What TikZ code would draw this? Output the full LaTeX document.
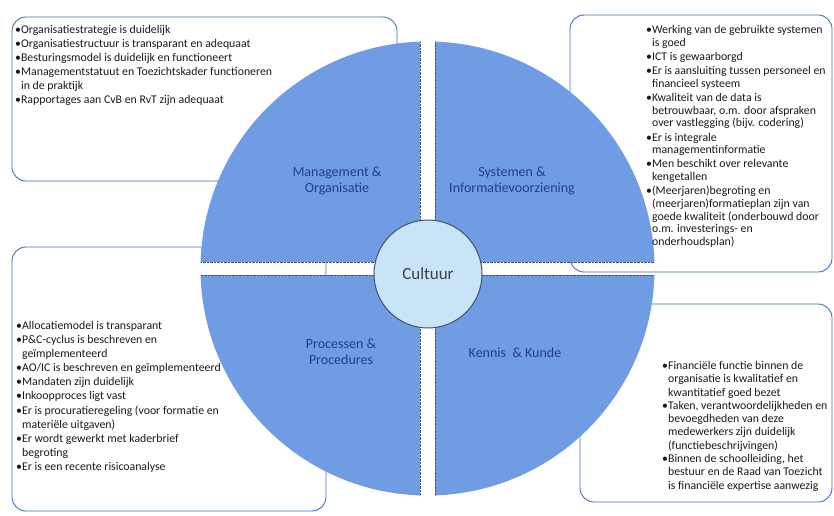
\documentclass[tikz,border=0pt]{standalone}
\usepackage{fontspec}
\setmainfont{Carlito}
\usetikzlibrary{positioning}

\definecolor{quadblue}{RGB}{112,156,228}
\definecolor{corefill}{RGB}{200,228,246}
\definecolor{coreline}{RGB}{62,82,112}
\definecolor{boxline}{RGB}{72,104,205}
\definecolor{labelblue}{RGB}{36,64,128}
\definecolor{textgray}{RGB}{25,25,25}
\newcommand{\bul}{\textbullet}
\newcommand{\ind}{\phantom{\textbullet}}

\begin{document}
\begin{tikzpicture}[x=1pt,y=-1pt,
    infobox/.style={draw=boxline, line width=0.9pt, rounded corners=14pt},
    quad/.style={fill=quadblue},
    gapline/.style={draw=coreline, line width=0.4pt, densely dotted},
    quadlabel/.style={text=labelblue, font=\fontsize{14}{16.5}\selectfont, align=center},
    itemtext/.style={text=textgray, font=\fontsize{11.8}{14.1}\selectfont, align=left, inner sep=0pt, anchor=north west}]
  \useasboundingbox (0,0) rectangle (834,515);

  % kaders achter de cirkel
  \draw[infobox] (12,17) rectangle (397,181);
  \draw[infobox] (570,15) rectangle (832,272);
  \draw[infobox] (12,247) rectangle (326,511);
  \draw[infobox] (580,304) rectangle (832,502);

  % vier kwadranten
  \coordinate (c) at (427.5,268.5);
  \begin{scope}
    \clip (c) circle[radius=227pt];
    \fill[quad] (195,38) rectangle (420,262);
    \fill[quad] (435,38) rectangle (660,262);
    \fill[quad] (195,275) rectangle (420,500);
    \fill[quad] (435,275) rectangle (660,500);
    \draw[gapline] (420,38) -- (420,262) -- (195,262);
    \draw[gapline] (435,38) -- (435,262) -- (660,262);
    \draw[gapline] (420,500) -- (420,275) -- (195,275);
    \draw[gapline] (435,500) -- (435,275) -- (660,275);
  \end{scope}

  \node[circle, draw=coreline, line width=1pt, fill=corefill, minimum size=108pt,
    text=black!75, font=\fontsize{17}{20}\selectfont] (cultuur) at (428,274) {Cultuur};

  \node[quadlabel] (mo) at (337,181) {Management \&\\Organisatie};
  \node[quadlabel] (si) at (512,181) {Systemen \&\\Informatievoorziening};
  \node[quadlabel] (pp) at (341,352) {Processen \&\\Procedures};
  \node[quadlabel] (kk) at (515,353) {Kennis\ \ \& Kunde};

  % teksten in de kaders
  \node[itemtext] (mo-list) at (15,25) {\bul Organisatiestrategie is duidelijk\\
    \bul Organisatiestructuur is transparant en adequaat\\
    \bul Besturingsmodel is duidelijk en functioneert\\
    \bul Managementstatuut en Toezichtskader functioneren\\
    \ind in de praktijk\\
    \bul Rapportages aan CvB en RvT zijn adequaat};
  \node[itemtext, font=\fontsize{11.8}{12.7}\selectfont] (si-list) at (646,25) {\bul Werking van de gebruikte systemen\\
    \ind is goed\\[1.5pt]
    \bul ICT is gewaarborgd\\[1.5pt]
    \bul Er is aansluiting tussen personeel en\\
    \ind financieel systeem\\[1.5pt]
    \bul Kwaliteit van de data is\\
    \ind betrouwbaar, o.m. door afspraken\\
    \ind over vastlegging (bijv. codering)\\[1.5pt]
    \bul Er is integrale\\
    \ind managementinformatie\\[1.5pt]
    \bul Men beschikt over relevante\\
    \ind kengetallen\\[1.5pt]
    \bul (Meerjaren)begroting en\\
    \ind (meerjaren)formatieplan zijn van\\
    \ind goede kwaliteit (onderbouwd door\\
    \ind o.m. investerings- en\\
    \ind onderhoudsplan)};
  \node[itemtext] (pp-list) at (16,321) {\bul Allocatiemodel is transparant\\
    \bul P\&C-cyclus is beschreven en\\
    \ind geïmplementeerd\\
    \bul AO/IC is beschreven en geïmplementeerd\\
    \bul Mandaten zijn duidelijk\\
    \bul Inkoopproces ligt vast\\
    \bul Er is procuratieregeling (voor formatie en\\
    \ind materiële uitgaven)\\
    \bul Er wordt gewerkt met kaderbrief\\
    \ind begroting\\
    \bul Er is een recente risicoanalyse};
  \node[itemtext, font=\fontsize{11.8}{13.3}\selectfont] (kk-list) at (662,361) {\bul Financiële functie binnen de\\
    \ind organisatie is kwalitatief en\\
    \ind kwantitatief goed bezet\\
    \bul Taken, verantwoordelijkheden en\\
    \ind bevoegdheden van deze\\
    \ind medewerkers zijn duidelijk\\
    \ind (functiebeschrijvingen)\\
    \bul Binnen de schoolleiding, het\\
    \ind bestuur en de Raad van Toezicht\\
    \ind is financiële expertise aanwezig};
\end{tikzpicture}
\end{document}
